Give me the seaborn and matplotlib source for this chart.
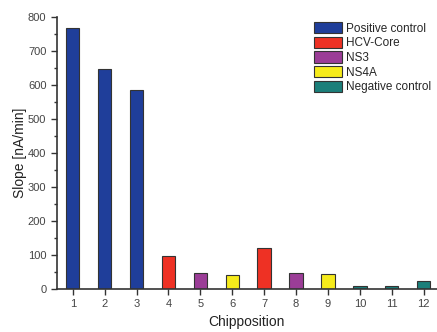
import matplotlib
matplotlib.use("Agg")
import matplotlib.pyplot as plt
import seaborn as sns
import pandas as pd
from matplotlib.ticker import MultipleLocator

positions = ["1", "2", "3", "4", "5", "6", "7", "8", "9", "10", "11", "12"]
slopes = [767, 647, 584, 96, 48, 40, 120, 48, 43, 10, 10, 25]
groups = ["Positive control", "Positive control", "Positive control", "HCV-Core", "NS3",
          "NS4A", "HCV-Core", "NS3", "NS4A", "Negative control", "Negative control",
          "Negative control"]
group_order = ["Positive control", "HCV-Core", "NS3", "NS4A", "Negative control"]
group_colors = ["#1F3E9A", "#EE3124", "#9B3D97", "#F6EB1B", "#1B7F7A"]

df = pd.DataFrame({"pos": positions, "slope": slopes, "group": groups})

sns.set_style("ticks")
plt.rcParams["font.family"] = ["Liberation Sans", "DejaVu Sans"]

fig = plt.figure(figsize=(4.37, 3.32), dpi=100)
ax = fig.add_axes([0.130, 0.1295, 0.870, 0.8195])

sns.barplot(data=df, x="pos", y="slope", hue="group", hue_order=group_order,
            palette=dict(zip(group_order, group_colors)), order=positions,
            dodge=False, width=0.42, edgecolor="#333333", linewidth=0.8,
            saturation=1, ax=ax)

ax.set_xlim(-0.5, 11.42)
ax.set_ylim(0, 800)
ax.yaxis.set_major_locator(MultipleLocator(100))
ax.yaxis.set_minor_locator(MultipleLocator(50))
ax.tick_params(axis="both", which="major", direction="out", length=4, width=1,
               labelsize=8, colors="#333333", labelcolor="#444444")
ax.tick_params(axis="y", which="minor", direction="out", length=2.5, width=1, colors="#333333")
ax.set_xlabel("Chipposition", fontsize=10, color="#222222", labelpad=4)
ax.set_ylabel("Slope [nA/min]", fontsize=10, color="#222222", labelpad=1)
for s in ["top", "right"]:
    ax.spines[s].set_visible(False)
for s in ["left", "bottom"]:
    ax.spines[s].set_linewidth(1.2)
    ax.spines[s].set_color("#333333")

handles, labels = ax.get_legend_handles_labels()
leg = ax.legend(handles, labels, loc="upper right", bbox_to_anchor=(0.99, 0.99),
                frameon=False, fontsize=8.5, handlelength=2.4, handleheight=1.1,
                handletextpad=0.3, labelspacing=0.17, borderaxespad=0.0,
                borderpad=0.2)

fig.savefig("out.png", dpi=100)
